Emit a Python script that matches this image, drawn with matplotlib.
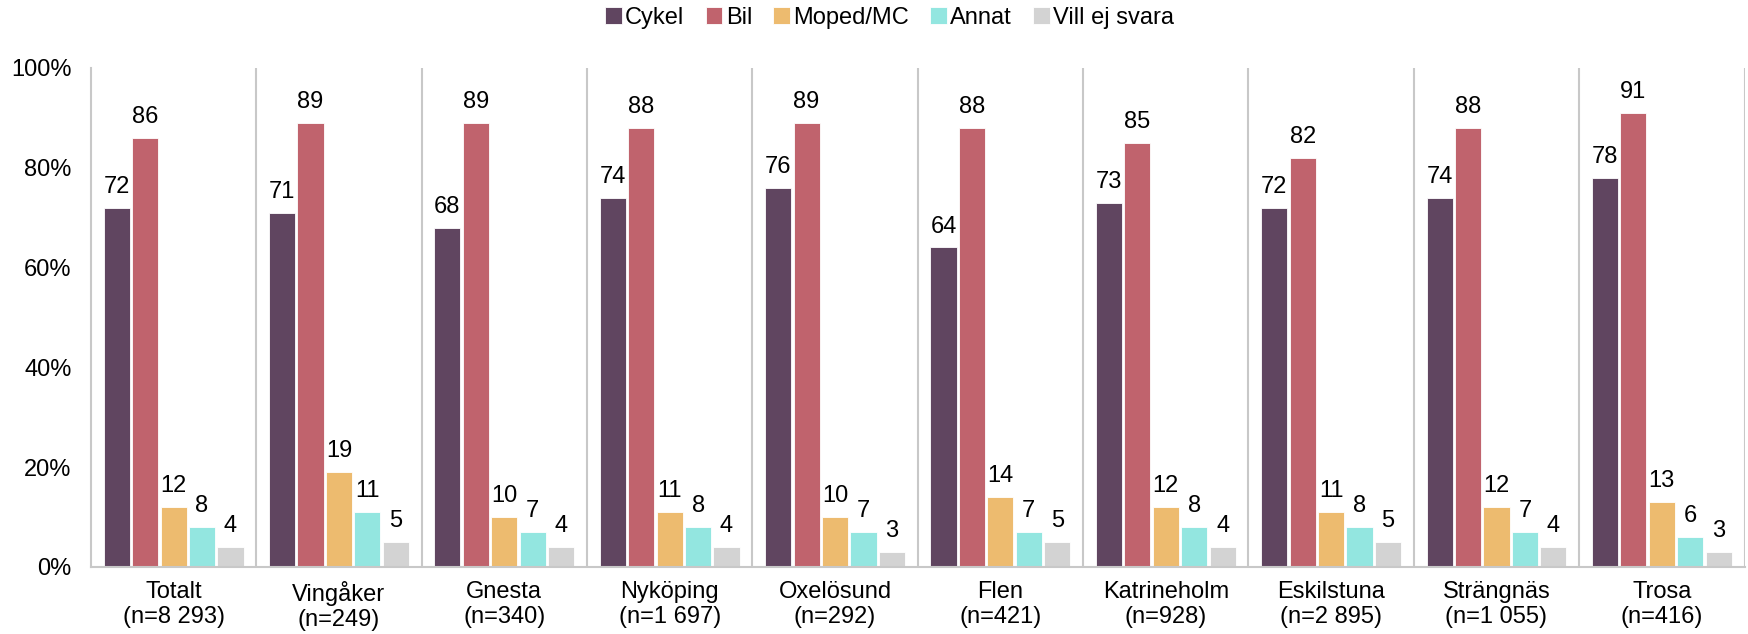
import matplotlib
matplotlib.use("Agg")
import matplotlib.pyplot as plt
import numpy as np
from matplotlib.ticker import FuncFormatter

plt.rcParams['font.family'] = ['Liberation Sans', 'DejaVu Sans']

categories = ["Totalt\n(n=8 293)", "Vingåker\n(n=249)", "Gnesta\n(n=340)", "Nyköping\n(n=1 697)",
              "Oxelösund\n(n=292)", "Flen\n(n=421)", "Katrineholm\n(n=928)", "Eskilstuna\n(n=2 895)",
              "Strängnäs\n(n=1 055)", "Trosa\n(n=416)"]
series_names = ["Cykel", "Bil", "Moped/MC", "Annat", "Vill ej svara"]
cykel = [72, 71, 68, 74, 76, 64, 73, 72, 74, 78]
bil = [86, 89, 89, 88, 89, 88, 85, 82, 88, 91]
moped = [12, 19, 10, 11, 10, 14, 12, 11, 12, 13]
annat = [8, 11, 7, 8, 7, 7, 8, 8, 7, 6]
villej = [4, 5, 4, 4, 3, 5, 4, 5, 4, 3]
colors = ["#604560", "#C0636D", "#EDBB6F", "#93E6E0", "#D3D3D3"]

series = [cykel, bil, moped, annat, villej]

fig = plt.figure(figsize=(17.48, 6.34), dpi=100)
ax = fig.add_axes([0.052, 0.106, 0.946, 0.787])

x = np.arange(len(categories))
slot = 0.172
bw = 0.158
for i, (vals, name, c) in enumerate(zip(series, series_names, colors)):
    pos = x + (i - 2) * slot
    bars = ax.bar(pos, vals, width=bw, color=c, label=name, edgecolor='white', linewidth=0.6)
    for b, v in zip(bars, vals):
        ax.annotate(str(v), (b.get_x() + b.get_width() / 2, v), xytext=(0, 7),
                    textcoords='offset points', ha='center', va='bottom', fontsize=17)

ax.set_xlim(-0.5, len(categories) - 0.5)
ax.set_ylim(0, 100)
ax.set_yticks(range(0, 101, 20))
ax.yaxis.set_major_formatter(FuncFormatter(lambda v, p: f"{int(v)}%"))
ax.set_xticks(x)
ax.set_xticklabels(categories, fontsize=17, linespacing=1.22)
ax.tick_params(axis='y', labelsize=17, length=0, pad=14)
ax.tick_params(axis='x', length=0, pad=10)

for s in ['top', 'right']:
    ax.spines[s].set_visible(False)
for s in ['left', 'bottom']:
    ax.spines[s].set_color('#C8C8C8')
    ax.spines[s].set_linewidth(1.5)
for k in range(1, len(categories) + 1):
    ax.axvline(k - 0.5, color='#C8C8C8', linewidth=1.5, ymin=0, ymax=1)

fig.legend(loc='center', bbox_to_anchor=(0.509, 0.972), ncol=5, frameon=False,
           fontsize=17, handlelength=0.7, handleheight=0.7, handletextpad=0.15,
           columnspacing=0.9, borderpad=0.2)

fig.savefig("out.png", dpi=100)
